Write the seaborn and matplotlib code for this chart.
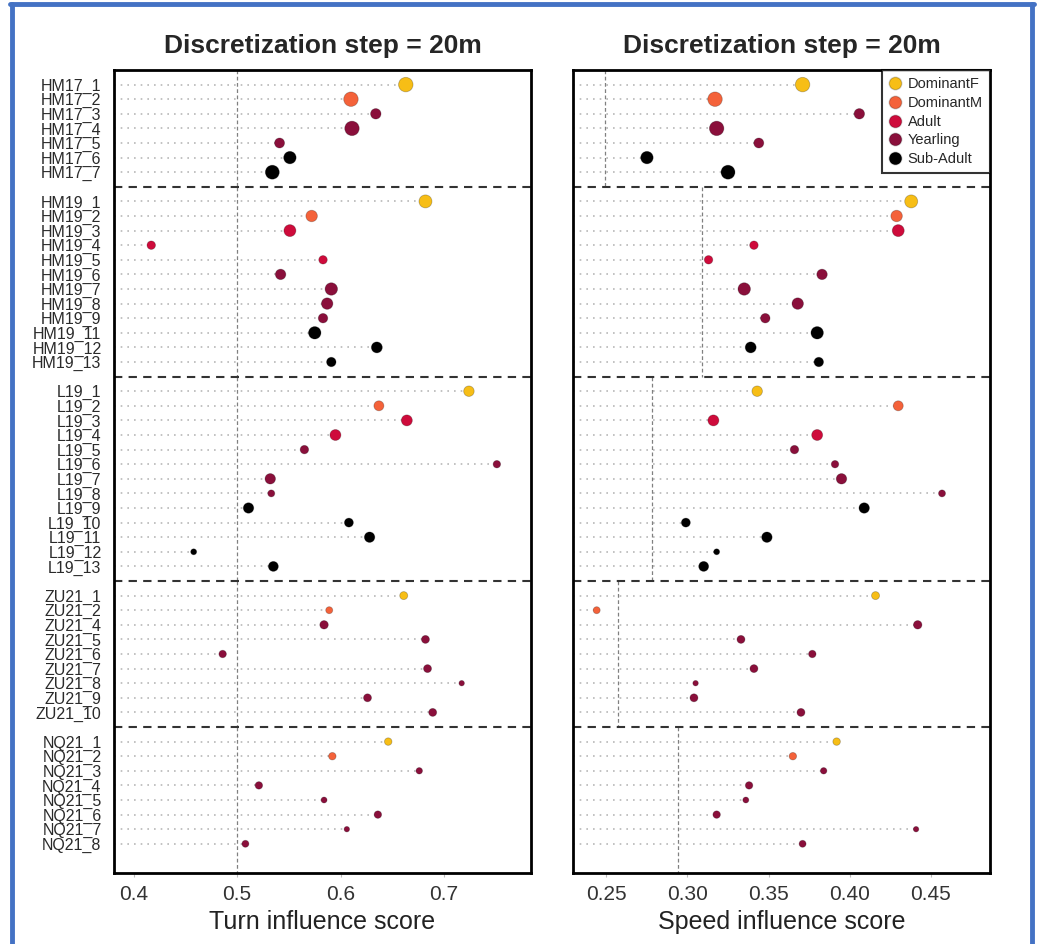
import numpy as np
import pandas as pd
import seaborn as sns
from matplotlib import pyplot as plt
from matplotlib.lines import Line2D

# ---------------------------------------------------------------------------
# data
groups = ['HM17', 'HM19', 'L19', 'ZU21', 'NQ21']

hm17_ids = [1, 2, 3, 4, 5, 6, 7]
hm19_ids = [1, 2, 3, 4, 5, 6, 7, 8, 9, 11, 12, 13]
l19_ids = [1, 2, 3, 4, 5, 6, 7, 8, 9, 10, 11, 12, 13]
zu21_ids = [1, 2, 4, 5, 6, 7, 8, 9, 10]
nq21_ids = [1, 2, 3, 4, 5, 6, 7, 8]

hm17_turn = [0.663, 0.610, 0.634, 0.611, 0.541, 0.551, 0.534]
hm19_turn = [0.682, 0.572, 0.551, 0.417, 0.583, 0.542, 0.591, 0.587, 0.583, 0.575, 0.635, 0.591]
l19_turn = [0.724, 0.637, 0.664, 0.595, 0.565, 0.751, 0.532, 0.533, 0.511, 0.608, 0.628, 0.458, 0.535]
zu21_turn = [0.661, 0.589, 0.584, 0.682, 0.486, 0.684, 0.717, 0.626, 0.689]
nq21_turn = [0.646, 0.592, 0.676, 0.521, 0.584, 0.636, 0.606, 0.508]

hm17_speed = [0.371, 0.317, 0.406, 0.318, 0.344, 0.275, 0.325]
hm19_speed = [0.438, 0.429, 0.430, 0.341, 0.313, 0.383, 0.335, 0.368, 0.348, 0.380, 0.339, 0.381]
l19_speed = [0.343, 0.430, 0.316, 0.380, 0.366, 0.391, 0.395, 0.457, 0.409, 0.299, 0.349, 0.318, 0.310]
zu21_speed = [0.416, 0.244, 0.442, 0.333, 0.377, 0.341, 0.305, 0.304, 0.370]
nq21_speed = [0.392, 0.365, 0.384, 0.338, 0.336, 0.318, 0.441, 0.371]

hm17_status = ['DominantF', 'DominantM', 'Yearling', 'Yearling', 'Yearling', 'Sub-Adult', 'Sub-Adult']
hm19_status = ['DominantF', 'DominantM', 'Adult', 'Adult', 'Adult', 'Yearling', 'Yearling',
               'Yearling', 'Yearling', 'Sub-Adult', 'Sub-Adult', 'Sub-Adult']
l19_status = ['DominantF', 'DominantM', 'Adult', 'Adult', 'Yearling', 'Yearling', 'Yearling',
              'Yearling', 'Sub-Adult', 'Sub-Adult', 'Sub-Adult', 'Sub-Adult', 'Sub-Adult']
zu21_status = ['DominantF', 'DominantM'] + ['Yearling'] * 7
nq21_status = ['DominantF', 'DominantM'] + ['Yearling'] * 6

# relative weight of each individual (drives dot size)
hm17_weight = [14.5, 14.5, 10.5, 14.5, 10, 12.5, 14]
hm19_weight = [13, 11.5, 12, 8.5, 8.5, 10.5, 12.5, 11.5, 9.5, 12.5, 11, 9.5]
l19_weight = [10.5, 10, 11, 11, 8.5, 7.5, 10.5, 7, 10.5, 9, 10.5, 6, 10]
zu21_weight = [8, 7, 8.5, 8, 7.5, 8, 5.5, 8, 8]
nq21_weight = [7.5, 7.5, 6.5, 7.5, 6, 7.5, 5.5, 7]

# group reference lines
turn_ref = [0.5, 0.5, 0.5, 0.5, 0.5]
speed_ref = [0.249, 0.309, 0.278, 0.257, 0.294]

status_order = ['DominantF', 'DominantM', 'Adult', 'Yearling', 'Sub-Adult']
palette = {'DominantF': '#F7BE16', 'DominantM': '#F4623A', 'Adult': '#CE0B3B',
           'Yearling': '#8A0F3B', 'Sub-Adult': '#000000'}

# ---------------------------------------------------------------------------
# build the table, one row per individual, slot = vertical position
ids = [hm17_ids, hm19_ids, l19_ids, zu21_ids, nq21_ids]
turn = [hm17_turn, hm19_turn, l19_turn, zu21_turn, nq21_turn]
speed = [hm17_speed, hm19_speed, l19_speed, zu21_speed, nq21_speed]
status = [hm17_status, hm19_status, l19_status, zu21_status, nq21_status]
weight = [hm17_weight, hm19_weight, l19_weight, zu21_weight, nq21_weight]

recs = []
seps = []
spans = []
slot = 0
top = -1
for gi, g in enumerate(groups):
    for k in range(len(ids[gi])):
        recs.append({'label': f'{g}_{ids[gi][k]}', 'group': g, 'y': slot,
                     'turn': turn[gi][k], 'speed': speed[gi][k],
                     'status': status[gi][k], 'w': weight[gi][k]})
        slot += 1
    spans.append((top, slot))
    if gi < len(groups) - 1:
        seps.append(slot)
    top = slot
    slot += 1
df = pd.DataFrame(recs)
spans[-1] = (spans[-1][0], slot)
df['s'] = (0.72 * df['w']) ** 2

# ---------------------------------------------------------------------------
sns.set_style('white')
plt.rcParams['font.family'] = ['Liberation Sans', 'DejaVu Sans']

W, H = 1039, 944
fig = plt.figure(figsize=(W / 100, H / 100), dpi=100)
ax1 = fig.add_axes([114 / W, 1 - 873 / H, (531 - 114) / W, (873 - 70) / H])
ax2 = fig.add_axes([573 / W, 1 - 873 / H, (990 - 573) / W, (873 - 70) / H])

panels = [(ax1, 'turn', turn_ref, (0.381, 0.784), [0.4, 0.5, 0.6, 0.7],
           ['0.4', '0.5', '0.6', '0.7'], 'Turn influence score'),
          (ax2, 'speed', speed_ref, (0.2294, 0.4866), [0.25, 0.30, 0.35, 0.40, 0.45],
           ['0.25', '0.30', '0.35', '0.40', '0.45'], 'Speed influence score')]

for ax, col, ref, xlim, xt, xtl, xlab in panels:
    ax.set_xlim(*xlim)
    ax.set_ylim(slot, -1)
    # dotted guide from the left edge to each dot
    ax.hlines(df['y'], xlim[0], df[col], colors='#b8b8b8', linestyles=(0, (1, 3)),
              lw=1.2, zorder=1)
    for (a, b), r in zip(spans, ref):
        ax.vlines(r, a, b, colors='#808080', linestyles=(0, (3, 2)), lw=0.9, zorder=1)
    for s in seps:
        ax.axhline(s, color='#333333', ls=(0, (4, 3)), lw=1.5, zorder=2)
    sns.scatterplot(data=df, x=col, y='y', hue='status', hue_order=status_order,
                    palette=palette, s=df['s'].values, edgecolor=(0, 0, 0, 0.25),
                    linewidth=0.6, legend=False, ax=ax, zorder=3)
    ax.set_xticks(xt)
    ax.set_xticklabels(xtl, fontsize=15, color='#333333')
    ax.tick_params(axis='x', length=3, color='#bbbbbb', pad=6, bottom=True)
    ax.set_xlabel(xlab, fontsize=18, color='#222222', labelpad=4)
    ax.set_ylabel('')
    ax.set_title('Discretization step = 20m', fontsize=19, fontweight='bold', pad=12)
    for sp in ax.spines.values():
        sp.set_visible(True)
        sp.set_color('black')
        sp.set_linewidth(2)

ax1.set_yticks(df['y'])
ax1.set_yticklabels(df['label'], fontsize=11.5, color='#2a2a2a')
ax1.tick_params(axis='y', length=0, pad=9)
ax2.set_yticks([])

handles = [Line2D([], [], ls='none', marker='o', markersize=9,
                  markerfacecolor=palette[k], markeredgecolor=(0, 0, 0, 0.2), label=k)
           for k in status_order]
leg = ax2.legend(handles=handles, loc='upper right', borderaxespad=0, fontsize=10.5,
                 frameon=True, fancybox=False, handlelength=0.8, handletextpad=0.45,
                 labelspacing=0.32, borderpad=0.5)
leg.get_frame().set_edgecolor('black')
leg.get_frame().set_linewidth(1.5)
leg.set_zorder(5)

# blue frame around the figure
blue = '#4472C4'
for xs, ys in [([10 / W, 1034 / W], [1 - 4 / H, 1 - 4 / H]),
               ([12 / W, 12 / W], [1 - 4 / H, 0]),
               ([1032 / W, 1032 / W], [1 - 4 / H, 0])]:
    fig.add_artist(Line2D(xs, ys, transform=fig.transFigure, color=blue, lw=3.5))

fig.savefig('out.png', dpi=100)
